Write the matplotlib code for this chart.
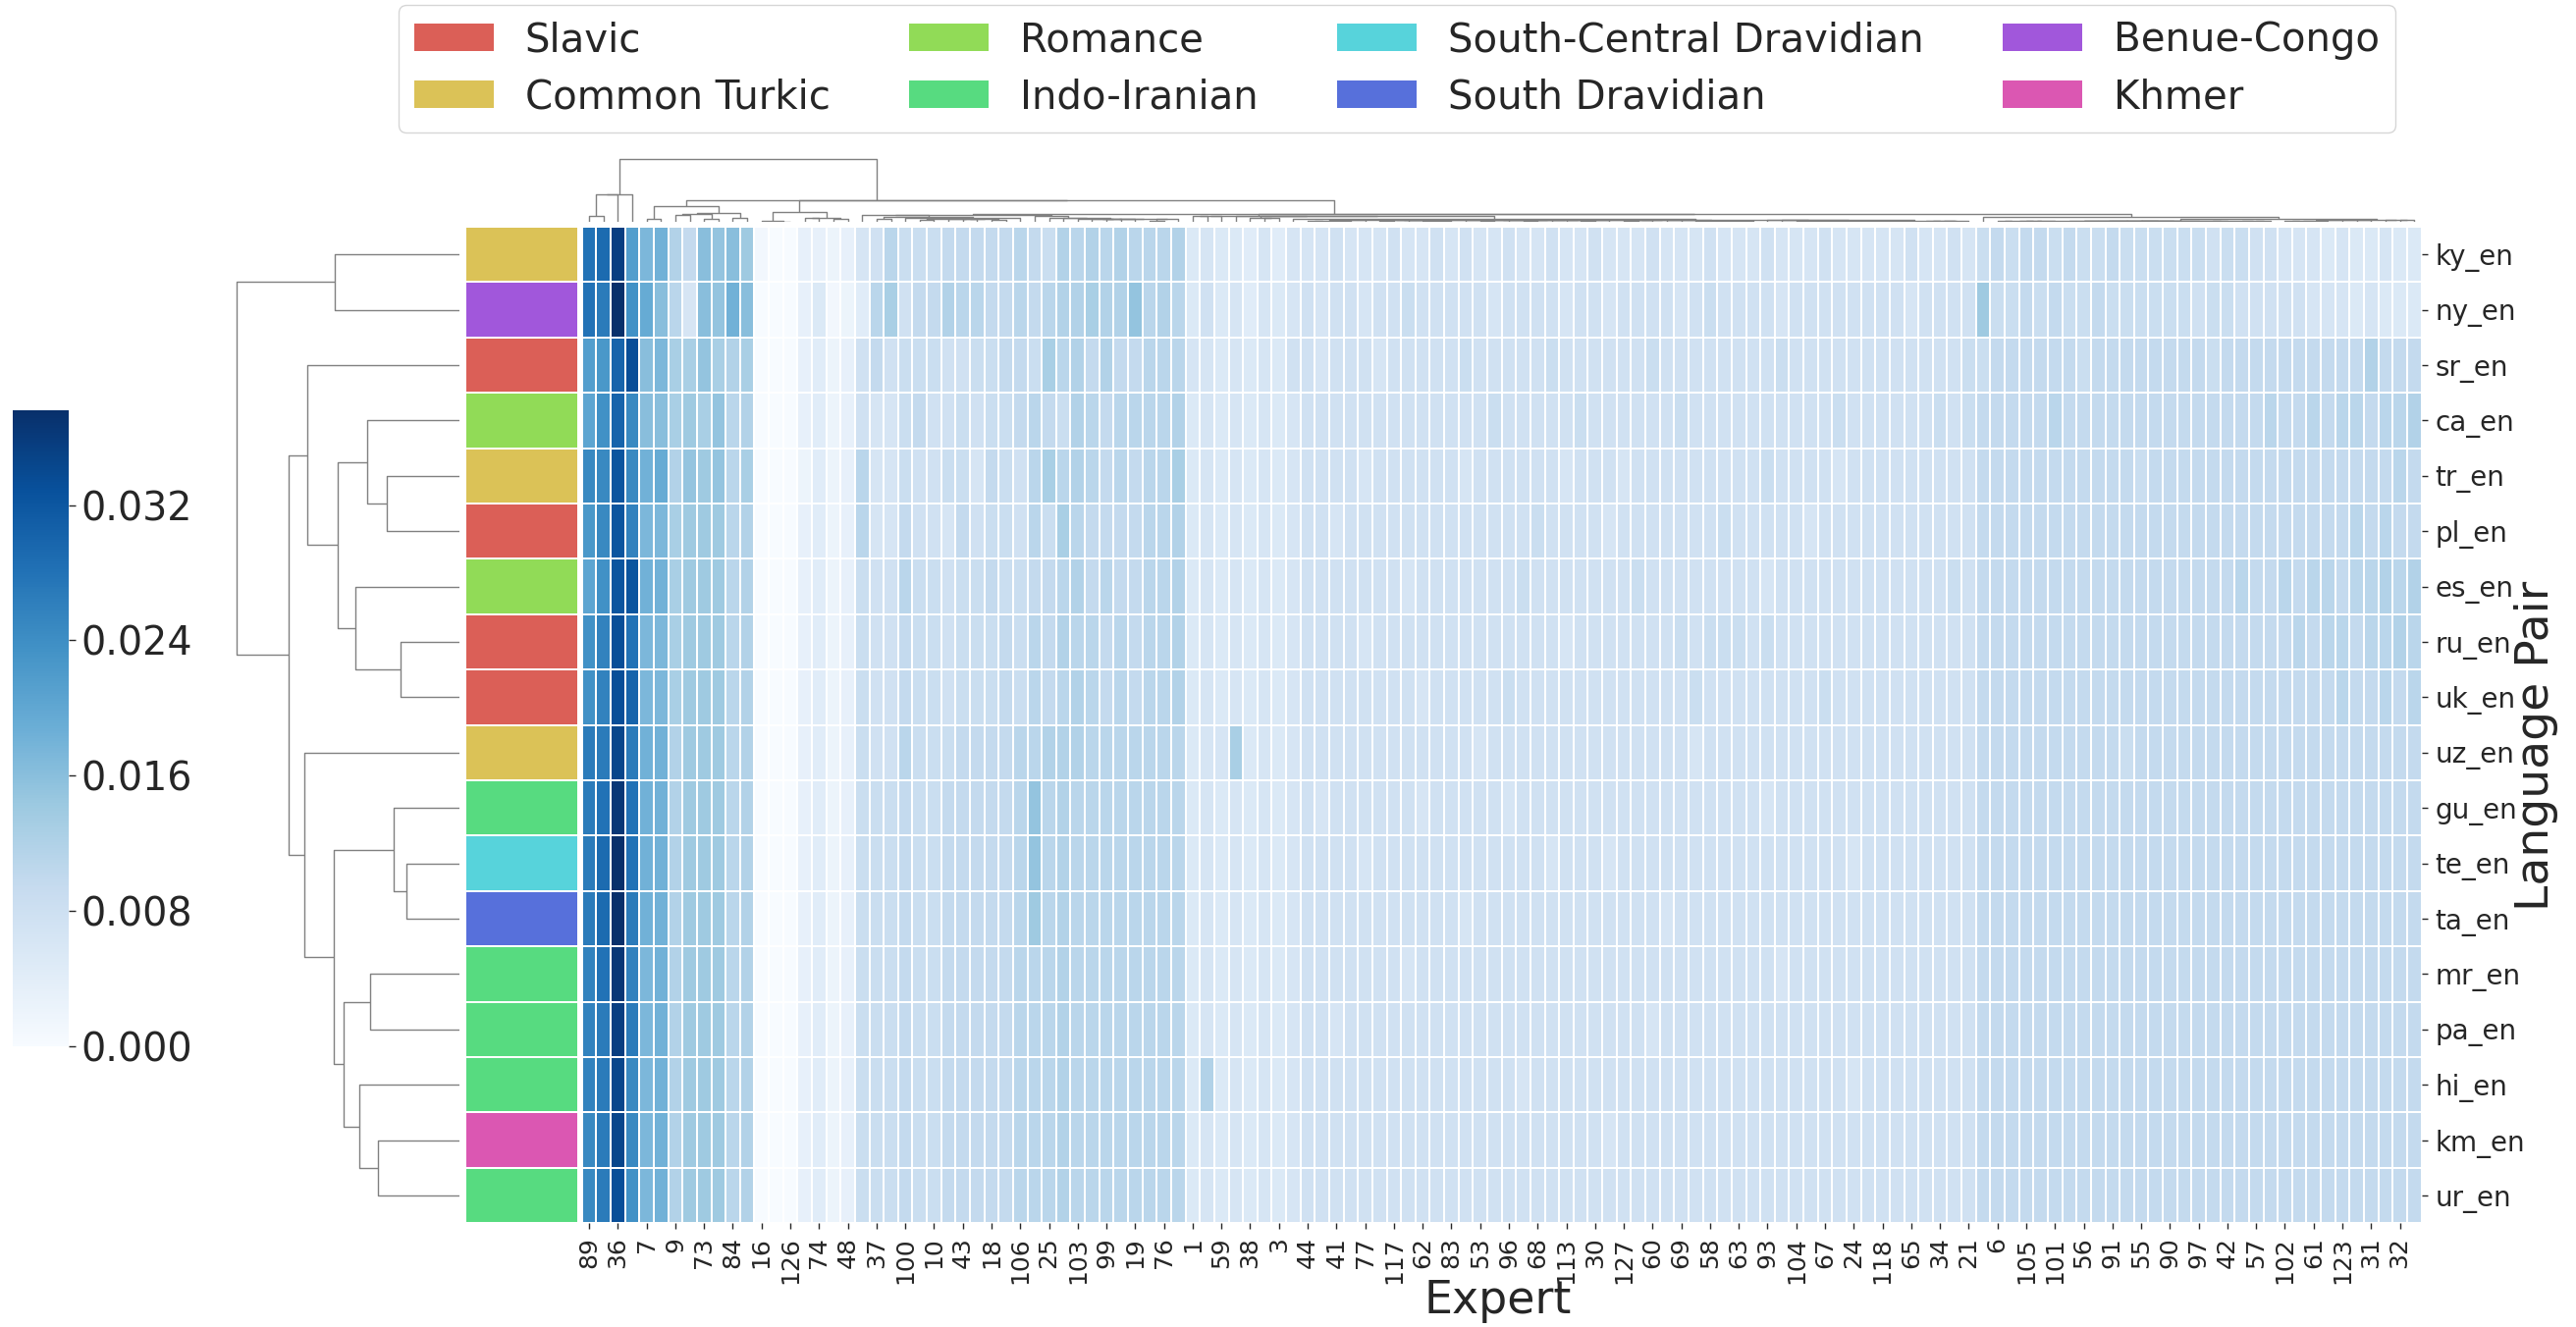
import numpy as np
import matplotlib
matplotlib.use("Agg")
import matplotlib.pyplot as plt
import seaborn as sns
from matplotlib.colors import ListedColormap
from matplotlib.collections import LineCollection
from matplotlib.patches import Patch
from matplotlib.ticker import FormatStrFormatter

plt.rcParams["font.family"] = ["DejaVu Sans"]
plt.rcParams["text.color"] = "#262626"
plt.rcParams["xtick.color"] = "#262626"
plt.rcParams["ytick.color"] = "#262626"

# ---------------- data ----------------
LANG_PAIRS = ["ky_en", "ny_en", "sr_en", "ca_en", "tr_en", "pl_en", "es_en", "ru_en", "uk_en",
              "uz_en", "gu_en", "te_en", "ta_en", "mr_en", "pa_en", "hi_en", "km_en", "ur_en"]
FAMILIES = ["Common Turkic", "Benue-Congo", "Slavic", "Romance", "Common Turkic", "Slavic",
            "Romance", "Slavic", "Slavic", "Common Turkic", "Indo-Iranian",
            "South-Central Dravidian", "South Dravidian", "Indo-Iranian", "Indo-Iranian",
            "Indo-Iranian", "Khmer", "Indo-Iranian"]
FAMILY_ORDER = ["Slavic", "Common Turkic", "Romance", "Indo-Iranian",
                "South-Central Dravidian", "South Dravidian", "Benue-Congo", "Khmer"]

# expert ids shown as tick labels (every other column of the clustered order)
EXPERT_LABELS = [89, 36, 7, 9, 73, 84, 16, 126, 74, 48, 37, 100, 10, 43, 18, 106, 25, 103, 99, 19,
                 76, 1, 59, 38, 3, 44, 41, 77, 117, 62, 83, 53, 96, 68, 113, 30, 127, 60, 69, 58,
                 63, 93, 104, 67, 24, 118, 65, 34, 21, 6, 105, 101, 56, 91, 55, 90, 97, 42, 57, 102,
                 61, 123, 31, 32]
# experts in the unlabeled (odd) columns
EXPERT_UNLABELED = [0, 2, 4, 5, 8, 11, 12, 13, 14, 15, 17, 20, 22, 23, 26, 27, 28, 29, 33, 35,
                    39, 40, 45, 46, 47, 49, 50, 51, 52, 54, 64, 66, 70, 71, 72, 75, 78, 79, 80, 81,
                    82, 85, 86, 87, 88, 92, 94, 95, 98, 107, 108, 109, 110, 111, 112, 114, 115, 116,
                    119, 120, 121, 122, 124, 125]

VMAX = 0.0376
# each character is a base-36 level: value = level / 35 * VMAX (128 experts per row)
ROW_LEVELS = {
    "ky_en": "qrxkghb9fe fd10033236 7a88899999 a98bababaa ab56554646 6676667667 6766766766 7666766676 6676667666 6676676898 9989889888 8887887766 65655655",
    "ny_en": "qpzmifa6fe hf00035124 ac799baa99 a9abbcbbea ba57564656 7677677877 7776777767 7677776787 7776777777 7767777d88 9898898888 8878877777 66656555",
    "sr_en": "klsvfgccec bc00034237 9788877889 98cab9b99a aa66565657 7677767777 7877777877 7777877777 7778777777 7777778899 9999899999 9998999999 9999b999",
    "ca_en": "jmsnffcdce ab00034237 6689778788 9a98ba9aaa ab56565656 7777777777 7778777778 7777778777 7777777877 7777878999 99a9999999 9999999a99 a9aa9aab",
    "tr_en": "nnunhibede ac0002423a 6687788698 7acaba9a9a ac56565656 7777677777 7677777767 7767777777 7787777677 7777777999 9999999989 9999999999 999999a9",
    "pl_en": "lnuoggcddd ab0003423a 6697769788 7a8ca9999a ab56565656 7767777777 7777778777 7677777778 7777767777 7777777999 9999999999 9999999999 999a9a99",
    "es_en": "jmuuhhcddd ab00034238 77a8878898 899ab9a99a ab56565656 7777777677 7777787777 7778777777 7767777777 7777787999 9999999999 99999a99a9 aa9aabab",
    "ru_en": "movqggcddd ab00034238 7798878889 8a9baa9a9a ab56565656 7777677777 7777777767 7777778788 8787777777 7777777999 9999999999 999999999a 9aa9aaba",
    "uk_en": "movsggcddd ab00034238 7798878889 8a9aba9a9a ab56565656 7777777767 7777877777 7777777877 7777778777 7777777999 9999999999 9999999999 99a99a9a",
    "uz_en": "ppwphhbddd ab00034238 77a8889999 aabbbaaaaa aa566c5656 7777777777 7767777777 7777777677 7777777777 7777777999 9999999899 9999999999 99999999",
    "gu_en": "pqyqhhbddd ab00034238 8898899999 aeabaaaaaa aa56565656 7677777767 7777677777 7777777777 7767777777 7777777999 9999999999 9999999999 99999999",
    "te_en": "przqhhbddd ab00034238 8898899999 aeabaaaaaa aa56565656 7777677777 7777777677 7677777777 7777777767 7777777999 9999999999 9999999999 99999999",
    "ta_en": "przphhbddd ab00034238 8898899999 adabaaaaaa aa56565656 7777777777 7677777777 7777767777 7777777777 7777777999 9999999999 9999999999 99999999",
    "mr_en": "oqyoghbddd ab00034238 8898899999 aaabaaaaaa aa56565656 7777777677 7777777777 7777777777 7776777777 7777777999 9999999999 9999999999 99999999",
    "pa_en": "opxpghbddd ab00034238 8898899999 aaabaaaaaa aa56565656 7767777777 7777777777 7777677777 7777777777 7777777999 9999999999 9999999999 99999999",
    "hi_en": "opwnghbddd ab00034238 8898899999 aaabaaaaaa aa5b565656 7777777777 7777767777 7777777777 7777777767 7777777999 9999999999 9999999999 99999999",
    "km_en": "npwnghbddd ab00034238 8898899999 aaabaaaaaa aa56565656 7777777777 7777777777 7677777777 7777777777 7777777999 9999999999 9999999999 99999999",
    "ur_en": "npvmghbddd ab00034238 8898899999 aaabaaaaaa aa56565656 7777777777 7777777777 7777777777 7777777777 7777777999 9999999999 9999999999 99999999",
}

# row dendrogram: (left cluster, right cluster, height)
ROW_MERGES = [
    (11, 12, 0.162), (7, 8, 0.180), (10, 18, 0.201), (4, 5, 0.222), (16, 17, 0.249),
    (13, 14, 0.273), (3, 21, 0.282), (15, 22, 0.306), (6, 19, 0.318), (23, 25, 0.354),
    (24, 26, 0.372), (0, 1, 0.381), (20, 27, 0.384), (2, 28, 0.465), (9, 30, 0.474),
    (31, 32, 0.522), (29, 33, 0.681),
]

# ---------------- build matrix ----------------
data = np.array([[int(ch, 36) / 35.0 * VMAX for ch in "".join(ROW_LEVELS[p].split())]
                 for p in LANG_PAIRS])
n_rows, n_cols = data.shape
expert_order = []
for a, b in zip(EXPERT_LABELS, EXPERT_UNLABELED):
    expert_order += [a, b]


def constrained_average_linkage(X):
    """Average linkage (euclidean) restricted to neighbouring clusters of the shown order."""
    n = len(X)
    D = np.sqrt(((X[:, None, :] - X[None, :, :]) ** 2).sum(-1))
    clusters = [[i] for i in range(n)]
    ids = list(range(n))
    heights = [0.0] * n
    merges = []
    nxt = n
    while len(clusters) > 1:
        best_d, best_j = None, None
        for j in range(len(clusters) - 1):
            d = D[np.ix_(clusters[j], clusters[j + 1])].mean()
            if best_d is None or d < best_d:
                best_d, best_j = d, j
        j = best_j
        h = max(best_d, heights[j], heights[j + 1])
        merges.append((ids[j], ids[j + 1], h))
        clusters[j] = clusters[j] + clusters[j + 1]
        del clusters[j + 1]
        ids[j] = nxt
        del ids[j + 1]
        heights[j] = h
        del heights[j + 1]
        nxt += 1
    return merges


def dendro_segments(merges, n):
    pos = {i: 10.0 * i + 5.0 for i in range(n)}
    hgt = {i: 0.0 for i in range(n)}
    segs = []
    for k, (a, b, h) in enumerate(merges):
        xa, xb = pos[a], pos[b]
        segs.append([(xa, hgt[a]), (xa, h), (xb, h), (xb, hgt[b])])
        pos[n + k] = (xa + xb) / 2.0
        hgt[n + k] = h
    return segs


col_merges = constrained_average_linkage(data.T)

# ---------------- figure ----------------
fig = plt.figure(figsize=(26.24, 13.52), dpi=100)
HM_L, HM_B, HM_W, HM_H = 0.2259, 0.0782, 0.7141, 0.7509
ax_hm = fig.add_axes([HM_L, HM_B, HM_W, HM_H])
ax_rc = fig.add_axes([0.1805, HM_B, 0.0440, HM_H])
ax_rd = fig.add_axes([0.0877, HM_B, 0.0907, HM_H])
ax_cd = fig.add_axes([HM_L, 0.8328, HM_W, 0.0498])
cax = fig.add_axes([0.0051, 0.2115, 0.0217, 0.4793])

sns.heatmap(data, ax=ax_hm, cmap="Blues", vmin=0, vmax=VMAX, linewidths=1.2,
            linecolor="white", cbar_ax=cax, xticklabels=False, yticklabels=False)
ax_hm.set_xticks(np.arange(0, n_cols, 2) + 0.5)
ax_hm.set_xticklabels([str(e) for e in expert_order[::2]], rotation=90, fontsize=18)
ax_hm.set_yticks(np.arange(n_rows) + 0.5)
ax_hm.set_yticklabels(LANG_PAIRS, rotation=0, fontsize=20)
ax_hm.yaxis.tick_right()
ax_hm.tick_params(axis="both", length=4, width=1, pad=6, color="#262626",
                  left=False, right=True, bottom=True, top=False)

# row colors
pal = sns.color_palette("hls", len(FAMILY_ORDER))
fam_idx = np.array([[FAMILY_ORDER.index(f)] for f in FAMILIES], dtype=float)
sns.heatmap(fam_idx, ax=ax_rc, cmap=ListedColormap(pal), vmin=-0.5,
            vmax=len(FAMILY_ORDER) - 0.5, linewidths=1.2, linecolor="white",
            cbar=False, xticklabels=False, yticklabels=False)

# colorbar
cb = ax_hm.collections[0].colorbar
cb.set_ticks([0.0, 0.008, 0.016, 0.024, 0.032])
cb.ax.yaxis.set_major_formatter(FormatStrFormatter("%.3f"))
cb.ax.tick_params(labelsize=28.5, length=5, width=1, pad=4, color="#262626")
cb.outline.set_linewidth(0)

DCOL = "#808080"
DLW = 1.0
# row dendrogram
rsegs = dendro_segments(ROW_MERGES, n_rows)
rsegs = [[(h, p) for (p, h) in s] for s in rsegs]
ax_rd.add_collection(LineCollection(rsegs, colors=DCOL, linewidths=DLW))
rmax = max(m[2] for m in ROW_MERGES)
ax_rd.set_xlim(rmax * 1.05, 0)
ax_rd.set_ylim(n_rows * 10, 0)
ax_rd.axis("off")

# column dendrogram
csegs = dendro_segments(col_merges, n_cols)
ax_cd.add_collection(LineCollection(csegs, colors=DCOL, linewidths=DLW))
cmax = max(m[2] for m in col_merges)
ax_cd.set_xlim(0, n_cols * 10)
ax_cd.set_ylim(0, cmax * 1.05)
ax_cd.axis("off")

# axis labels
fig.text(0.5815, 0.0195, "Expert", ha="center", va="center", fontsize=33)
fig.text(0.9845, 0.4380, "Language Pair", ha="center", va="center", rotation=90, fontsize=34)

# legend
handles = [Patch(facecolor=pal[i], edgecolor="none", label=f) for i, f in enumerate(FAMILY_ORDER)]
fig.legend(handles=handles, loc="upper center", bbox_to_anchor=(0.5423, 0.9963), ncol=4,
           fontsize=29, frameon=True, borderaxespad=0, labelspacing=0.45)

fig.savefig("out.png", dpi=100)
